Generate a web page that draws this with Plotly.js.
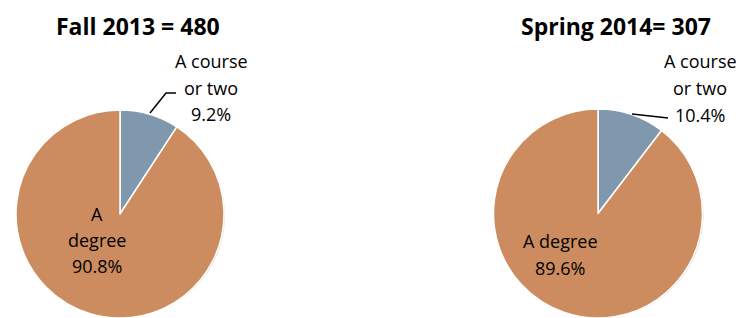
<!DOCTYPE html>
<html>
<head>
<meta charset="utf-8">
<script src="https://cdn.plot.ly/plotly-3.0.1.min.js"></script>
<style>
html,body{margin:0;padding:0;overflow:hidden;background:#fff;}
#chart{width:739px;height:318px;}
</style>
</head>
<body>
<div id="chart"></div>
<script>
// ---- data ----
const categories = ["A course or two", "A degree"];
const fallValues = [9.2, 90.8];
const springValues = [10.4, 89.6];
const titles = ["Fall 2013 = 480", "Spring 2014= 307"];
const courseLabelLines = ["A course", "or two"];
const colors = ["#7F98AE", "#CC8C60"];

const W = 739, H = 318;
const px = x => x / W;
const py = y => 1 - y / H;

function pieTrace(values, cx, cy, r) {
  return {
    type: "pie",
    values: values,
    labels: categories,
    sort: false,
    direction: "clockwise",
    rotation: 0,
    textinfo: "none",
    hoverinfo: "label+percent",
    marker: {colors: colors, line: {color: "#ffffff", width: 1.5}},
    domain: {x: [px(cx - r), px(cx + r)], y: [py(cy + r), py(cy - r)]},
    showlegend: false
  };
}
function shadowTrace(values, cx, cy, r) {
  const t = pieTrace(values, cx + 2, cy + 2, r);
  t.marker = {colors: ["rgba(0,0,0,0.18)", "rgba(0,0,0,0.18)"], line: {width: 0}};
  t.hoverinfo = "skip";
  return t;
}

const pies = [
  {values: fallValues, cx: 120, cy: 214, r: 104},
  {values: springValues, cx: 598, cy: 214, r: 105}
];

const data = [];
pies.forEach(p => data.push(shadowTrace(p.values, p.cx, p.cy, p.r)));
pies.forEach(p => data.push(pieTrace(p.values, p.cx, p.cy, p.r)));

const fmt = v => v.toFixed(1) + "%";
const labFont = {family: "Open Sans, sans-serif", size: 18, color: "#000"};
const titleFont = {family: "Open Sans, sans-serif", size: 23, color: "#000", weight: "bold"};

// multi-line label as one annotation per line
function lines(textLines, x, yFirst, gap) {
  return textLines.map((t, i) => ({x: px(x), y: py(yFirst + i * gap), text: t, font: labFont}));
}

const annotations = [
  {x: px(138), y: py(26), text: "<b>" + titles[0] + "</b>", font: titleFont},
  {x: px(616), y: py(26), text: "<b>" + titles[1] + "</b>", font: titleFont},
  ...lines([...courseLabelLines, fmt(fallValues[0])], 211, 61, 26.5),
  ...lines([...courseLabelLines, fmt(springValues[0])], 700, 61, 27),
  ...lines(["A", "degree", fmt(fallValues[1])], 97, 214, 26),
  ...lines(["A degree", fmt(springValues[1])], 560, 241, 27)
].map(a => Object.assign({xref: "paper", yref: "paper", showarrow: false, xanchor: "center", yanchor: "middle"}, a));

const shapes = [
  {type: "path", xref: "paper", yref: "paper",
   path: `M ${px(150)} ${py(113)} L ${px(166)} ${py(93)} L ${px(176)} ${py(93)}`,
   line: {color: "#000", width: 1.5}},
  {type: "path", xref: "paper", yref: "paper",
   path: `M ${px(632)} ${py(114)} L ${px(668)} ${py(118)}`,
   line: {color: "#000", width: 1.5}}
];

const layout = {
  width: W, height: H,
  margin: {l: 0, r: 0, t: 0, b: 0},
  paper_bgcolor: "#fff",
  plot_bgcolor: "#fff",
  annotations: annotations,
  shapes: shapes
};

Plotly.newPlot("chart", data, layout, {displayModeBar: false, staticPlot: true});
</script>
</body>
</html>
